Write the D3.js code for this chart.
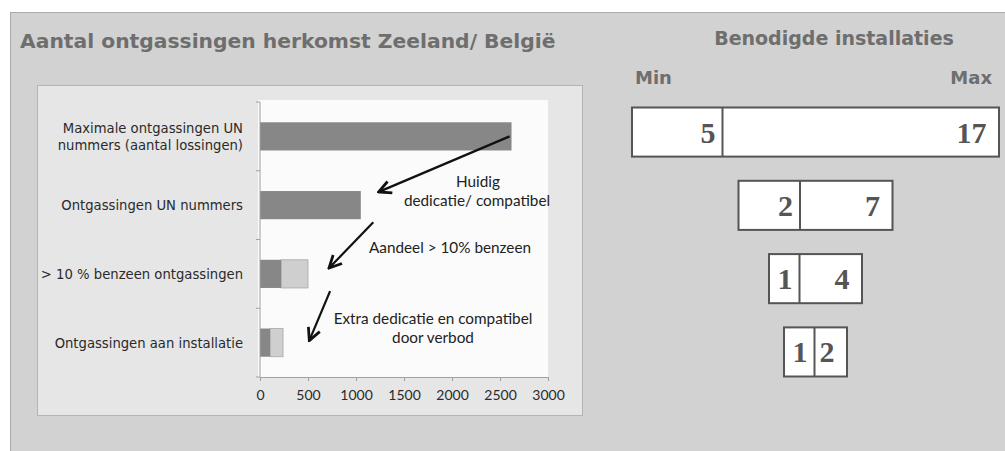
<!DOCTYPE html>
<html>
<head>
<meta charset="utf-8">
<script src="https://cdn.jsdelivr.net/npm/d3@7"></script>
<style>
  body { margin: 0; background: #fff; }
  svg { display: block; }
</style>
</head>
<body>
<div id="vis"></div>
<script>
// data
const categories = [
  "Maximale ontgassingen UN nummers (aantal lossingen)",
  "Ontgassingen UN nummers",
  "> 10 % benzeen ontgassingen",
  "Ontgassingen aan installatie"
];
const darkValues = [2620, 1050, 220, 105];
const lightValues = [0, 0, 280, 135];
const xTicks = [0, 500, 1000, 1500, 2000, 2500, 3000];
const installMin = [5, 2, 1, 1];
const installMax = [17, 7, 4, 2];

const W = 1005, H = 451;
const svg = d3.select("#vis").append("svg")
  .attr("width", W).attr("height", H);

// outer panel
svg.append("rect")
  .attr("x", 10.5).attr("y", 12.5).attr("width", W).attr("height", H)
  .attr("fill", "#d2d2d2").attr("stroke", "#aaa");

svg.append("text")
  .attr("x", 20).attr("y", 48)
  .attr("font-family", "DejaVu Sans").attr("font-weight", "bold").attr("font-size", 20.3)
  .attr("fill", "#6e6e6e")
  .text("Aantal ontgassingen herkomst Zeeland/ België");

// inner chart panel
svg.append("rect")
  .attr("x", 37.5).attr("y", 85.5).attr("width", 545).attr("height", 330)
  .attr("fill", "#e6e6e6").attr("stroke", "#b4b4b4");

const PLOT = {left: 260, right: 548, top: 102, bottom: 377};

svg.append("rect")
  .attr("x", PLOT.left - 2).attr("y", PLOT.top - 2)
  .attr("width", PLOT.right - PLOT.left + 2).attr("height", PLOT.bottom - PLOT.top + 2)
  .attr("fill", "#fbfbfb");

const X = d3.scaleLinear().domain([0, 3000]).range([PLOT.left, PLOT.right]);
const Y = d3.scaleBand().domain(categories).range([PLOT.top, PLOT.bottom])
  .paddingInner(0.59).paddingOuter(0.295);

// bars
const bars = svg.append("g");
bars.selectAll(".light")
  .data(categories)
  .enter()
  .append("rect")
    .attr("x", (d, i) => X(darkValues[i]))
    .attr("y", (d) => Y(d))
    .attr("width", (d, i) => X(darkValues[i] + lightValues[i]) - X(darkValues[i]))
    .attr("height", Y.bandwidth())
    .attr("fill", "#cfcfcf")
    .attr("stroke", (d, i) => lightValues[i] > 0 ? "#a8a8a8" : "none")
    .attr("stroke-width", 0.8);
bars.selectAll(".dark")
  .data(categories)
  .enter()
  .append("rect")
    .attr("x", X(0))
    .attr("y", (d) => Y(d))
    .attr("width", (d, i) => X(darkValues[i]) - X(0))
    .attr("height", Y.bandwidth())
    .attr("fill", "#878787");

// y axis with ticks at category boundaries
const yAxis = svg.append("g");
yAxis.append("line")
  .attr("x1", PLOT.left).attr("x2", PLOT.left)
  .attr("y1", PLOT.top).attr("y2", PLOT.bottom)
  .attr("stroke", "#a0a0a0");
const step = Y.step();
yAxis.selectAll(".tk")
  .data(d3.range(categories.length + 1))
  .enter()
  .append("line")
    .attr("x1", PLOT.left - 4).attr("x2", PLOT.left)
    .attr("y1", (i) => PLOT.top + i * (PLOT.bottom - PLOT.top) / categories.length)
    .attr("y2", (i) => PLOT.top + i * (PLOT.bottom - PLOT.top) / categories.length)
    .attr("stroke", "#a0a0a0");

// category labels
const labelLines = [
  ["Maximale ontgassingen UN", "nummers (aantal lossingen)"],
  ["Ontgassingen UN nummers"],
  ["> 10 % benzeen ontgassingen"],
  ["Ontgassingen aan installatie"]
];
categories.forEach((c, i) => {
  const lines = labelLines[i];
  const cy = Y(c) + Y.bandwidth() / 2;
  const t = svg.append("text")
    .attr("text-anchor", "end")
    .attr("font-family", "DejaVu Sans").attr("font-size", 13.2)
    .attr("fill", "#2a2a2a");
  lines.forEach((l, j) => {
    t.append("tspan")
      .attr("x", 243)
      .attr("y", cy + 5 + (j - (lines.length - 1) / 2) * 17)
      .text(l);
  });
});

// x axis
const xAxis = svg.append("g")
  .attr("transform", "translate(0," + PLOT.bottom + ")")
  .call(d3.axisBottom(X).tickValues(xTicks).tickSize(4).tickFormat(d3.format("d")));
xAxis.select(".domain").attr("stroke", "#a0a0a0");
xAxis.selectAll(".tick line").attr("stroke", "#a0a0a0");
xAxis.selectAll("text")
  .attr("font-family", "Lato").attr("font-size", 14)
  .attr("fill", "#2a2a2a").attr("dy", "1.15em");

// annotations
const notes = svg.append("g")
  .attr("font-family", "Lato").attr("font-size", 15.3)
  .attr("fill", "#222").attr("text-anchor", "middle");
notes.append("text").attr("x", 478).attr("y", 187).text("Huidig");
notes.append("text").attr("x", 477).attr("y", 206).text("dedicatie/ compatibel");
notes.append("text").attr("x", 450).attr("y", 253).text("Aandeel > 10% benzeen");
notes.append("text").attr("x", 433).attr("y", 324).text("Extra dedicatie en compatibel");
notes.append("text").attr("x", 433).attr("y", 343).text("door verbod");

// arrows
svg.append("defs").append("marker")
  .attr("id", "head").attr("viewBox", "0 0 10 10")
  .attr("refX", 8).attr("refY", 5)
  .attr("markerWidth", 7).attr("markerHeight", 7)
  .attr("orient", "auto")
  .append("path").attr("d", "M1,1 L9,5 L1,9").attr("fill", "none")
  .attr("stroke", "#111").attr("stroke-width", 1.8);
const arrows = [
  [[2600, 1], [1250, 1.8]],
  [[1180, 2.25], [730, 2.9]],
  [[730, 3.25], [520, 3.95]]
];
arrows.forEach((a) => {
  const yAt = (v) => PLOT.top + (v - 0.5) * step;
  svg.append("line")
    .attr("x1", X(a[0][0])).attr("y1", yAt(a[0][1]))
    .attr("x2", X(a[1][0])).attr("y2", yAt(a[1][1]))
    .attr("stroke", "#111").attr("stroke-width", 2.2)
    .attr("marker-end", "url(#head)");
});

// right side: installations
svg.append("text")
  .attr("x", 834).attr("y", 45).attr("text-anchor", "middle")
  .attr("font-family", "DejaVu Sans").attr("font-weight", "bold").attr("font-size", 19)
  .attr("fill", "#6e6e6e").text("Benodigde installaties");
svg.append("text")
  .attr("x", 635).attr("y", 84)
  .attr("font-family", "DejaVu Sans").attr("font-weight", "bold").attr("font-size", 18)
  .attr("fill", "#6e6e6e").text("Min");
svg.append("text")
  .attr("x", 992).attr("y", 84).attr("text-anchor", "end")
  .attr("font-family", "DejaVu Sans").attr("font-weight", "bold").attr("font-size", 18)
  .attr("fill", "#6e6e6e").text("Max");

const rowY = d3.scaleBand().domain(d3.range(installMax.length))
  .range([107, 376]).paddingInner(0.33).paddingOuter(0);
const boxW = d3.scaleLinear().domain([2, 4, 7, 17]).range([63, 93, 154, 367]);
const splitW = d3.scaleLinear().domain([1, 2, 5]).range([31, 62, 91]);
const CENTER = 815;

const rows = svg.selectAll(".inst")
  .data(installMax)
  .enter()
  .append("g")
    .attr("transform", (d, i) => "translate(" + (CENTER - boxW(d) / 2) + "," + rowY(i) + ")");
rows.append("rect")
  .attr("x", 0.5).attr("y", 0.5)
  .attr("width", (d) => boxW(d)).attr("height", rowY.bandwidth())
  .attr("fill", "#fff").attr("stroke", "#555").attr("stroke-width", 2);
rows.append("line")
  .attr("x1", (d, i) => splitW(installMin[i])).attr("x2", (d, i) => splitW(installMin[i]))
  .attr("y1", 0).attr("y2", rowY.bandwidth())
  .attr("stroke", "#555").attr("stroke-width", 2);
rows.append("text")
  .attr("x", (d, i) => splitW(installMin[i]) - 7)
  .attr("y", rowY.bandwidth() / 2 + 11)
  .attr("text-anchor", "end")
  .attr("font-family", "Liberation Serif").attr("font-weight", "bold").attr("font-size", 30)
  .attr("fill", "#555").text((d, i) => installMin[i]);
rows.append("text")
  .attr("x", (d) => boxW(d) - 12)
  .attr("y", rowY.bandwidth() / 2 + 11)
  .attr("text-anchor", "end")
  .attr("font-family", "Liberation Serif").attr("font-weight", "bold").attr("font-size", 30)
  .attr("fill", "#555").text((d) => d);
</script>
</body>
</html>
